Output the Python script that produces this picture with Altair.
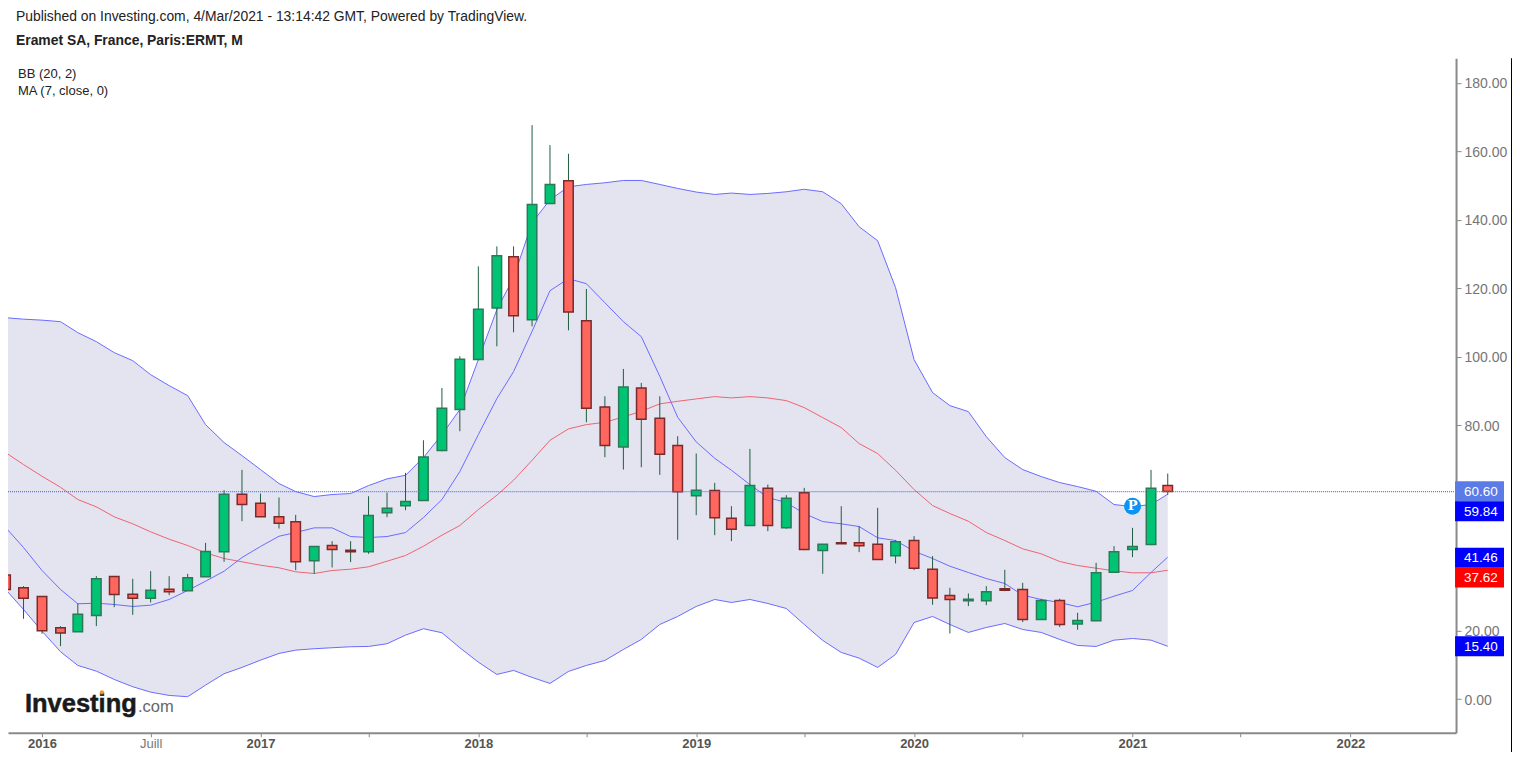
import altair as alt
import pandas as pd

dates = [f"{y}-{m:02d}-01" for y in range(2015, 2022) for m in range(1, 13)][10:75]

highs = [36.2,32.98,30.06,21.3,27.92,35.9,35.9,35.12,37.36,35.9,36.58,45.63,61.01,66.94,60.03,58.87,53.8,44.66,46.12,46.12,59.25,60.33,66.07,
75.61,90.89,100.13,126.41,132.25,132.25,167.67,161.83,159.3,119.79,88.45,96.44,92.35,88.45,76.78,71.72,63.15,56.34,73.08,62.66,59.55,
61.69,45.24,56.34,50.5,55.85,46.41,47.58,41.74,32.49,30.84,32.98,37.75,33.95,29.28,29.28,25.19,39.79,44.66,50.01,66.94,65.87]
lows = [31.8,23.44,19.06,15.46,19.65,21.3,26.85,24.61,28.21,30.35,31.62,35.7,40.08,51.96,53.22,49.81,37.65,36.58,38.43,39.99,42.42,53.12,55.17,
57.99,72.4,78.24,98.97,103.05,107.14,108.89,144.61,107.72,80.86,70.65,67.04,67.73,65.49,46.51,53.71,47.87,46.12,50.69,49.04,49.72,
43.49,36.58,45.34,42.91,40.76,39.6,37.65,27.53,19.16,27.14,27.43,31.52,22.47,23.15,21.01,20.23,22.76,37.07,41.45,45.05,59.64]
body_top = [36.2,32.49,29.96,20.81,24.8,35.12,35.8,30.64,31.81,32.1,35.41,43.1,59.84,59.84,57.21,53.22,51.76,44.56,44.85,43.49,53.61,55.75,57.7,
70.74,84.95,99.26,113.86,129.52,129.23,144.51,150.35,151.42,110.55,85.34,91.18,90.89,82.03,74.05,61.01,60.91,52.84,62.37,61.59,58.67,
60.23,45.24,45.63,45.63,45.24,45.92,46.31,37.94,30.25,29.18,31.32,32.2,32.01,28.8,28.8,22.96,36.87,43.0,44.56,61.59,62.37]
body_bottom = [32.0,29.47,19.94,19.26,19.65,24.41,30.55,29.47,29.47,31.32,31.62,35.7,43.0,56.82,53.22,51.37,40.08,40.37,43.68,43.0,43.0,54.39,56.43,
57.99,72.59,84.56,99.16,114.24,112.01,110.84,144.8,113.08,84.95,74.05,73.66,81.74,71.52,60.52,59.36,52.93,49.62,50.69,50.69,50.01,
43.68,43.39,45.34,44.75,40.76,41.84,38.23,29.48,29.09,28.7,28.7,31.81,23.25,23.25,21.79,21.89,22.86,37.07,43.68,45.14,60.6]
direction = ["down","down","down","down","up","up","down","down","up","down","up","up","up","down","down","down","down","up","down","down","up","up","up",
"up","up","up","up","up","down","up","up","down","down","down","up","down","down","down","up","down","down","up","down","up",
"down","up","down","down","down","up","down","down","down","up","up","down","down","up","down","up","up","up","up","up","down"]

bb_upper = [111.41,110.98,110.69,110.25,107.04,104.41,101.2,98.86,94.77,91.56,88.64,80.17,74.92,71.12,67.04,62.95,60.61,59.15,59.74,60.03,62.36,64.32,65.37,
70.54,77.25,84.55,99.15,113.75,123.09,139.15,145.87,149.66,150.34,150.83,151.5,151.5,150.34,149.17,148.12,147.42,147.82,147.42,147.71,148.2,
148.93,148.2,144.7,137.98,133.9,120.18,99.15,89.52,85.72,83.97,76.67,70.54,67.04,64.99,63.24,62.07,60.7,56.82,56.23,56.82,59.84]
bb_lower = [32.0,26.16,19.82,13.81,9.81,8.15,5.72,3.59,2.01,1.05,0.67,4.06,7.39,9.23,11.36,13.31,14.28,14.69,14.98,15.27,15.36,16.15,18.66,
20.53,19.36,14.98,10.77,7.18,8.35,6.31,4.55,8.06,9.81,11.27,14.48,17.4,21.78,24.12,27.04,29.08,28.2,29.08,27.91,26.45,
21.78,17.11,13.61,11.94,9.23,13.02,22.36,24.12,21.78,19.45,20.9,22.07,20.32,19.45,17.4,15.65,15.36,17.2,17.69,17.2,15.4]
bb_basis = [72.0,68.5,65.08,61.87,58.28,56.15,53.23,51.18,48.85,46.69,44.85,42.71,41.05,40.09,39.09,38.34,37.17,36.67,37.55,37.93,38.63,40.26,41.93,
44.64,47.85,50.69,55.36,59.53,63.91,69.75,75.59,78.92,80.17,80.85,82.42,84.06,86.22,86.98,87.68,88.35,87.97,88.35,87.97,87.18,
85.14,82.22,79.3,74.63,71.71,66.83,61.2,56.53,54.19,51.94,48.64,46.31,43.88,42.42,40.18,39.01,38.22,37.46,36.88,36.88,37.62]
ma7 = [50.1,44.26,37.55,32.0,27.82,28.0,27.62,27.04,27.42,29.08,31.71,34.42,37.34,41.34,44.56,47.56,48.64,50.01,50.01,47.47,47.18,47.47,48.64,
53.02,58.28,66.45,77.25,87.77,95.65,107.41,119.3,122.8,121.34,115.79,110.25,105.87,94.28,82.31,75.12,70.34,66.83,62.66,58.86,57.4,
54.19,51.85,51.18,50.39,47.09,46.31,43.18,41.05,38.8,36.96,35.21,33.75,30.34,29.08,28.2,26.95,28.29,30.04,31.71,36.96,41.46]

# 40.00 and 60.00 sit under the last-value tags in the reference, so they are not drawn.
y_ticks = [0, 20, 80, 100, 120, 140, 160, 180]
tag_text = ["60.60", "59.84", "41.46", "37.62", "15.40"]
tag_value = [60.6, 59.84, 41.46, 37.62, 15.4]
tag_centre = [60.7, 54.86, 41.26, 35.5, 15.45]
tag_colour = ["#5b7be6", "#0000ff", "#0000ff", "#ff0000", "#0000ff"]

FONT = "Liberation Sans"
TAG_HALF = 2.92

df = pd.DataFrame(dict(date=dates, high=highs, low=lows, top=body_top, bottom=body_bottom, dir=direction,
                       upper=bb_upper, lower=bb_lower, basis=bb_basis, ma=ma7))
tags = pd.DataFrame(dict(text=tag_text, value=tag_value, centre=tag_centre, colour=tag_colour))
tags["lo"] = tags.centre - TAG_HALF
tags["hi"] = tags.centre + TAG_HALF

def d(y, m, day=1):
    return alt.DateTime(year=y, month=m, date=day, utc=True)

x_vals = [d(y, m) for y in range(2016, 2023) for m in ("jan", "jul") if not (y == 2022 and m == "jul")]

x_axis = alt.Axis(
    values=x_vals, title=None, grid=False, domainColor="#8a8a8a", domainWidth=2, tickColor="#8a8a8a",
    tickSize=4, tickWidth=1, labelFont=FONT, labelFontSize=13, labelPadding=1, labelOverlap=False, labelFlush=False,
    labelBound=False,
    labelExpr="utcmonth(datum.value)===0 ? ''+utcyear(datum.value) : (utcyear(datum.value)===2016 ? 'Juill' : '')",
    labelFontWeight={"condition": {"test": "utcmonth(datum.value)===0", "value": "bold"}, "value": "normal"},
    labelColor={"condition": {"test": "utcmonth(datum.value)===0", "value": "#555555"}, "value": "#777777"},
)
y_axis = alt.Axis(
    values=y_ticks, orient="right", format=".2f", title=None, grid=False, domainColor="#8a8a8a", domainWidth=2,
    tickColor="#8a8a8a", tickSize=5, tickWidth=1, labelFont=FONT, labelFontSize=14, labelColor="#757575",
    labelPadding=3, labelOverlap=False, labelFlush=False, labelBound=False, labelOffset=1,
)
x_scale = alt.Scale(type="utc", domain=[d(2015, "nov", 5), d(2022, "jun", 27)], padding=0)
y_scale = alt.Scale(domain=[-9.86, 187.22], nice=False, zero=False)

X = alt.X("date:T", scale=x_scale, axis=x_axis)
def Y(f):
    return alt.Y(f + ":Q", scale=y_scale, axis=y_axis)

base = alt.Chart(df)
band = base.mark_area(color="#e4e4f0", opacity=1, clip=True).encode(x=X, y=Y("upper"), y2="lower:Q")
line_basis = base.mark_line(color="#ee6270", strokeWidth=1, clip=True).encode(x=X, y=Y("basis"))
line_up = base.mark_line(color="#6a6aff", strokeWidth=1, clip=True).encode(x=X, y=Y("upper"))
line_lo = base.mark_line(color="#6a6aff", strokeWidth=1, clip=True).encode(x=X, y=Y("lower"))
line_ma = base.mark_line(color="#6a6aff", strokeWidth=1, clip=True).encode(x=X, y=Y("ma"))

wicks = base.mark_rule(color="#1f5c40", strokeWidth=1, clip=True).encode(x=X, y=Y("high"), y2="low:Q")
bodies = base.mark_bar(size=9.5, strokeWidth=1.5, clip=True).encode(
    x=X, y=Y("top"), y2="bottom:Q",
    color=alt.Color("dir:N", scale=alt.Scale(domain=["up", "down"], range=["#00c473", "#ff665e"]), legend=None),
    stroke=alt.Stroke("dir:N", scale=alt.Scale(domain=["up", "down"], range=["#2a7a58", "#7a2a2a"]), legend=None),
)

price_rule = alt.Chart(tags.iloc[[0]]).mark_rule(color="#5577ee", strokeWidth=1.2, strokeDash=[1, 1]).encode(y=Y("value"))
tag_ticks = alt.Chart(tags).mark_rule(color="#8a8a8a", strokeWidth=1).encode(
    x=alt.value(1449), x2=alt.value(1454), y=Y("value"))
tag_box = alt.Chart(tags).mark_rect().encode(
    x=alt.value(1448), x2=alt.value(1497), y=Y("lo"), y2="hi:Q",
    color=alt.Color("colour:N", scale=None))
tag_txt = alt.Chart(tags).mark_text(align="left", baseline="middle", color="white", font=FONT, fontSize=13.5, dy=0.5).encode(
    x=alt.value(1457), y=Y("centre"), text="text:N")

marker = pd.DataFrame(dict(date=["2021-01-01"], v=[56.32], t=["P"]))
p_dot = alt.Chart(marker).mark_circle(color="#0a94f5", opacity=1, size=285).encode(x=X, y=Y("v"))
p_txt = alt.Chart(marker).mark_text(color="white", font="DejaVu Serif", fontWeight="bold", fontSize=13, baseline="middle").encode(
    x=X, y=Y("v"), text="t:N")

def label(text, px, py, **kw):
    one = alt.Chart(pd.DataFrame({"t": [text]}))
    return one.mark_text(align="left", baseline="alphabetic", font=FONT, **kw).encode(
        x=alt.value(px - 8), y=alt.value(py - 58), text="t:N")

head1 = label("Published on Investing.com, 4/Mar/2021 - 13:14:42 GMT, Powered by TradingView.", 16, 21, fontSize=13.9, color="#222222")
head2 = label("Eramet SA, France, Paris:ERMT, M", 16, 45, fontSize=13.9, fontWeight="bold", color="#222222")
head3 = label("BB (20, 2)", 18, 78, fontSize=13, color="#222222")
head4 = label("MA (7, close, 0)", 18, 95, fontSize=13, color="#222222")
logo1 = label("Investing", 25, 712, fontSize=25.5, fontWeight="bold", color="#1a1a1a", stroke="#1a1a1a", strokeWidth=0.5)
logo2 = label(".com", 138, 712, fontSize=16.5, color="#666666")
logo_dot = alt.Chart(pd.DataFrame({"t": [1]})).mark_circle(color="#f7941d", opacity=1, size=18).encode(
    x=alt.value(94), y=alt.value(634.5))
edge = alt.Chart(pd.DataFrame({"t": [1]})).mark_rule(color="#000000", strokeWidth=1).encode(
    x=alt.value(1504.5), y=alt.value(0), y2=alt.value(710))

chart = alt.layer(
    band, line_basis, line_up, line_lo, line_ma, wicks, bodies, price_rule, tag_ticks, tag_box, tag_txt,
    p_dot, p_txt, head1, head2, head3, head4, logo1, logo2, logo_dot, edge,
).properties(
    width=1449, height=675,
    padding={"left": 0, "top": 50, "right": 56, "bottom": 19},
    autosize=alt.AutoSizeParams(type="none"),
    background="white",
).configure_view(stroke=None)

chart.save("out.html", embed_options={"renderer": "svg", "actions": False})
